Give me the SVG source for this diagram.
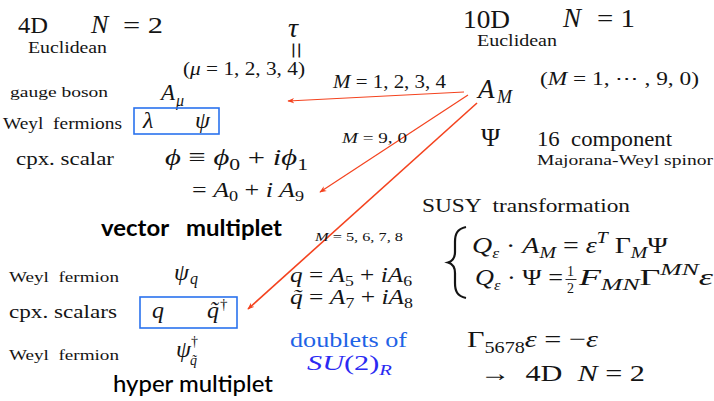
<svg xmlns="http://www.w3.org/2000/svg" width="714" height="401" viewBox="0 0 714 401">
<style>
.s{font-family:"Liberation Serif","DejaVu Serif",serif;fill:#141414;white-space:pre}
.i{font-style:italic}
.sans{font-family:Lato,"Open Sans",sans-serif;fill:#000;white-space:pre}
.box{fill:none;stroke:#2a72ee;stroke-width:1.6}
.arr{stroke:#f4431f;fill:none;marker-end:url(#ah)}
.blue1{fill:#1f63e6}
.blue2{fill:#2a2af2}
</style>
<defs>
<marker id="ah" viewBox="0 0 10 10" refX="9" refY="5" markerWidth="7" markerHeight="7" markerUnits="userSpaceOnUse" orient="auto">
<path d="M0,1 L10,5 L0,9 L3,5 Z" fill="#f4431f"/>
</marker>
</defs>

<g id="connectors">
<line class="arr" x1="464" y1="92" x2="288" y2="101" stroke-width="1.2"/>
<line class="arr" x1="468" y1="95" x2="320" y2="192" stroke-width="1.2"/>
<line class="arr" x1="477" y1="103" x2="248" y2="309" stroke-width="1.6"/>
</g>

<g id="header-4d">
<text class="s" x="18" y="33" font-size="24" textLength="30" lengthAdjust="spacingAndGlyphs">4D</text>
<text class="s i" x="91" y="33" font-size="26">N</text>
<text class="s" x="123" y="33" font-size="24" textLength="40" lengthAdjust="spacingAndGlyphs">= 2</text>
<text class="s" x="28" y="53" font-size="16" textLength="79" lengthAdjust="spacingAndGlyphs">Euclidean</text>
</g>

<g id="tau">
<text class="s i" x="288" y="37" font-size="28">τ</text>
<text class="s" font-size="30" transform="translate(286,42) rotate(90)">=</text>
<text class="s" x="183" y="75" font-size="19" textLength="122" lengthAdjust="spacingAndGlyphs">(<tspan class="i">μ</tspan> = 1, 2, 3, 4)</text>
</g>

<g id="vector-multiplet">
<text class="s" x="10" y="97" font-size="15" textLength="98" lengthAdjust="spacingAndGlyphs">gauge boson</text>
<text class="s i" x="161" y="100" font-size="23">A</text>
<text class="s i" x="176" y="106" font-size="16">μ</text>
<text class="s" x="3" y="129" font-size="16" textLength="119" lengthAdjust="spacingAndGlyphs">Weyl  fermions</text>
<rect class="box" x="134" y="108" width="85" height="26"/>
<text class="s i" x="143" y="128" font-size="24">λ</text>
<text class="s i" x="195" y="128" font-size="24">ψ</text>
<text class="s" x="16" y="165" font-size="19" textLength="98" lengthAdjust="spacingAndGlyphs">cpx. scalar</text>
<text class="s" x="165" y="165" font-size="24" textLength="143" lengthAdjust="spacingAndGlyphs"><tspan class="i">ϕ</tspan> ≡ <tspan class="i">ϕ</tspan><tspan font-size="17" dy="5">0</tspan><tspan dy="-5"> + </tspan><tspan class="i">iϕ</tspan><tspan font-size="17" dy="5">1</tspan></text>
<text class="s" x="192" y="197" font-size="20" textLength="112" lengthAdjust="spacingAndGlyphs">= <tspan class="i">A</tspan><tspan font-size="14" dy="4">0</tspan><tspan dy="-4"> + </tspan><tspan class="i">i A</tspan><tspan font-size="14" dy="4">9</tspan></text>
<text class="sans" x="101" y="236" font-size="22" font-weight="700" textLength="181" lengthAdjust="spacingAndGlyphs">vector   multiplet</text>
</g>

<g id="hyper-multiplet">
<text class="s" x="9" y="282" font-size="15" textLength="110" lengthAdjust="spacingAndGlyphs">Weyl  fermion</text>
<text class="s i" x="174" y="280" font-size="24">ψ</text>
<text class="s i" x="190" y="284" font-size="16">q</text>
<text class="s" x="9" y="318" font-size="18" textLength="108" lengthAdjust="spacingAndGlyphs">cpx. scalars</text>
<rect class="box" x="140" y="297" width="97" height="31"/>
<text class="s i" x="152" y="318" font-size="24">q</text>
<text class="s i" x="207" y="318" font-size="24">q̃</text>
<text class="s" x="220" y="309" font-size="15">†</text>
<text class="s" x="9" y="360" font-size="15" textLength="110" lengthAdjust="spacingAndGlyphs">Weyl  fermion</text>
<text class="s i" x="176" y="357" font-size="24">ψ</text>
<text class="s" x="191" y="346" font-size="14">†</text>
<text class="s i" x="190" y="365" font-size="14">q̃</text>
<text class="sans" x="113" y="392" font-size="23" font-weight="500" textLength="160" lengthAdjust="spacingAndGlyphs">hyper multiplet</text>
</g>

<g id="labels-middle">
<text class="s" x="333" y="88" font-size="18" textLength="113" lengthAdjust="spacingAndGlyphs"><tspan class="i">M</tspan> = 1, 2, 3, 4</text>
<text class="s" x="342" y="143" font-size="14" textLength="65" lengthAdjust="spacingAndGlyphs"><tspan class="i">M</tspan> = 9, 0</text>
<text class="s" x="315" y="241" font-size="12" textLength="88" lengthAdjust="spacingAndGlyphs"><tspan class="i">M</tspan> = 5, 6, 7, 8</text>
<text class="s" x="290" y="282" font-size="20" textLength="122" lengthAdjust="spacingAndGlyphs"><tspan class="i">q</tspan> = <tspan class="i">A</tspan><tspan font-size="14" dy="4">5</tspan><tspan dy="-4"> + </tspan><tspan class="i">iA</tspan><tspan font-size="14" dy="4">6</tspan></text>
<text class="s" x="290" y="304" font-size="20" textLength="123" lengthAdjust="spacingAndGlyphs"><tspan class="i">q̃</tspan> = <tspan class="i">A</tspan><tspan font-size="14" dy="4">7</tspan><tspan dy="-4"> + </tspan><tspan class="i">iA</tspan><tspan font-size="14" dy="4">8</tspan></text>
<text class="s blue1" x="290" y="347" font-size="21" textLength="117" lengthAdjust="spacingAndGlyphs">doublets of</text>
<text class="s blue2" x="307" y="370" font-size="22" textLength="85" lengthAdjust="spacingAndGlyphs"><tspan class="i">SU</tspan>(2)<tspan class="i" font-size="15" dy="5">R</tspan></text>
</g>

<g id="header-10d">
<text class="s" x="463" y="28" font-size="26" textLength="47" lengthAdjust="spacingAndGlyphs">10D</text>
<text class="s i" x="563" y="27" font-size="27">N</text>
<text class="s" x="597" y="27" font-size="25" textLength="38" lengthAdjust="spacingAndGlyphs">= 1</text>
<text class="s" x="477" y="46" font-size="16" textLength="80" lengthAdjust="spacingAndGlyphs">Euclidean</text>
</g>

<g id="fields-10d">
<text class="s i" x="478" y="98" font-size="27">A</text>
<text class="s i" x="497" y="103" font-size="18">M</text>
<text class="s" x="540" y="85" font-size="19" textLength="159" lengthAdjust="spacingAndGlyphs">(<tspan class="i">M</tspan> = 1, ⋯ , 9, 0)</text>
<text class="s" x="481" y="146" font-size="26">Ψ</text>
<text class="s" x="537" y="146" font-size="20" textLength="135" lengthAdjust="spacingAndGlyphs">16  component</text>
<text class="s" x="537" y="165" font-size="15" textLength="176" lengthAdjust="spacingAndGlyphs">Majorana-Weyl spinor</text>
</g>

<g id="susy">
<text class="s" x="422" y="212" font-size="19" textLength="208" lengthAdjust="spacingAndGlyphs">SUSY  transformation</text>
<path d="M466,227 C457,229 455,234 455,242 L455,252 C455,258 453,261 448,262.5 C453,264 455,267 455,273 L455,283 C455,291 457,296 466,298" fill="none" stroke="#141414" stroke-width="2.2"/>
<text class="s" x="472" y="253" font-size="24" textLength="196" lengthAdjust="spacingAndGlyphs"><tspan class="i">Q</tspan><tspan class="i" font-size="15" dy="5">ε</tspan><tspan dy="-5"> · </tspan><tspan class="i">A</tspan><tspan class="i" font-size="17" dy="5">M</tspan><tspan dy="-5"> = </tspan><tspan class="i">ε</tspan><tspan class="i" font-size="17" dy="-10">T</tspan><tspan dy="10"> Γ</tspan><tspan class="i" font-size="17" dy="5">M</tspan><tspan dy="-5">Ψ</tspan></text>
<text class="s" x="475" y="285" font-size="24" textLength="88" lengthAdjust="spacingAndGlyphs"><tspan class="i">Q</tspan><tspan class="i" font-size="15" dy="5">ε</tspan><tspan dy="-5"> · Ψ =</tspan></text>
<text class="s" x="567" y="276" font-size="14">1</text>
<line x1="565.5" y1="279.5" x2="576.5" y2="279.5" stroke="#141414" stroke-width="0.9"/>
<text class="s" x="567" y="293" font-size="14">2</text>
<text class="s" x="579" y="285" font-size="24" textLength="134" lengthAdjust="spacingAndGlyphs"><tspan class="i">F</tspan><tspan class="i" font-size="17" dy="5">MN</tspan><tspan dy="-5">Γ</tspan><tspan class="i" font-size="17" dy="-10">MN</tspan><tspan class="i" dy="10">ε</tspan></text>
<text class="s" x="467" y="347" font-size="24" textLength="131" lengthAdjust="spacingAndGlyphs">Γ<tspan font-size="16" dy="6">5678</tspan><tspan class="i" dy="-6">ε</tspan> = −<tspan class="i">ε</tspan></text>
<text class="s" x="480" y="381" font-size="24" textLength="165" lengthAdjust="spacingAndGlyphs">→  4D  <tspan class="i">N</tspan> = 2</text>
</g>
</svg>
